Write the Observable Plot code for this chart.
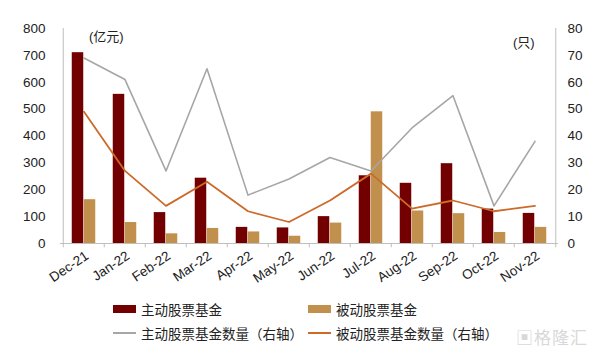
<!DOCTYPE html>
<html><head><meta charset="utf-8">
<script src="https://cdn.jsdelivr.net/npm/d3@7"></script>
<script src="https://cdn.jsdelivr.net/npm/@observablehq/plot@0.6"></script>
<style>
html,body{margin:0;padding:0;background:#fff;}
body{font-family:"Liberation Sans",Arial,"Noto Sans CJK SC",sans-serif;}
#wrap{position:relative;width:600px;height:358px;overflow:hidden;}
#chart{position:absolute;left:0;top:0;}
.unit{position:absolute;font-size:13px;color:#222;font-family:"Liberation Sans","Noto Sans CJK SC",sans-serif;}
.leg{position:absolute;font-size:13.5px;color:#222;font-family:"Noto Sans CJK SC",sans-serif;display:flex;align-items:center;white-space:nowrap;}
.sw{display:inline-block;width:23px;margin-right:5px;}
.wm{position:absolute;font-size:17px;color:#d8d8d8;font-family:"Noto Sans CJK SC",sans-serif;letter-spacing:1px;}
</style></head><body>
<div id="wrap"><div id="chart"></div></div>
<script>
const months = ["Dec-21","Jan-22","Feb-22","Mar-22","Apr-22","May-22","Jun-22","Jul-22","Aug-22","Sep-22","Oct-22","Nov-22"];
const activeAmt = [710,555,115,243,60,58,100,252,224,297,128,112];
const passiveAmt = [163,78,36,56,43,27,76,490,121,111,41,60];
const activeCnt = [69,61,27,65,18,24,32,27,43,55,14,38];
const passiveCnt = [49,27,14,23,12,8,16,26,13,16,12,14];
const leftTicks = [0,100,200,300,400,500,600,700,800];
const rightTicks = [0,10,20,30,40,50,60,70,80];
const seriesNames = ["主动股票基金","被动股票基金","主动股票基金数量（右轴）","被动股票基金数量（右轴）"];
const colors = ["#730000","#C1904C","#A6A6A6","#CC6A2A"];

const ratio = 10; // right axis -> left axis
const data = months.map((m,i)=>({month:m, a:activeAmt[i], p:passiveAmt[i], ac:activeCnt[i]*ratio, pc:passiveCnt[i]*ratio}));

const W=600,H=295,mL=60,mR=42,mT=28,mB=52;
const bw=(W-mL-mR)/months.length, half=bw/2, barW=12;

const plot = Plot.plot({
  width:W,height:H,marginLeft:mL,marginRight:mR,marginTop:mT,marginBottom:mB,
  style:{fontFamily:"'Liberation Sans',Arial,sans-serif",fontSize:"13px",color:"#222",background:"#fff"},
  x:{type:"band",domain:months,padding:0},
  y:{domain:[0,800]},
  marks:[
    Plot.barY(data,{x:"month",y:"a",fill:colors[0],insetLeft:half-barW,insetRight:half}),
    Plot.barY(data,{x:"month",y:"p",fill:colors[1],insetLeft:half,insetRight:half-barW}),
    Plot.line(data,{x:"month",y:"ac",stroke:colors[2],strokeWidth:1.6}),
    Plot.line(data,{x:"month",y:"pc",stroke:colors[3],strokeWidth:1.8}),
    Plot.ruleY([0],{stroke:"#BFBFBF"}),
    Plot.ruleX([months[0]],{dx:-half,stroke:"#BFBFBF"}),
    Plot.ruleX([months[months.length-1]],{dx:half,stroke:"#BFBFBF"}),
    Plot.ruleX(months,{x:d=>d,y1:0,y2:-16,dx:-half,stroke:"#BFBFBF"}),
    Plot.ruleX([months[months.length-1]],{y1:0,y2:-16,dx:half,stroke:"#BFBFBF"}),
    Plot.axisY(leftTicks,{anchor:"left",tickSize:0,tickPadding:15,label:null,fontSize:13.5}),
    Plot.axisY(rightTicks.map(d=>d*ratio),{anchor:"right",tickSize:0,tickPadding:9,tickFormat:d=>d/ratio,label:null,fontSize:13.5}),
    Plot.axisX({tickSize:0,tickRotate:-34,tickPadding:11,dx:3,label:null,fontSize:13.5})
  ]
});
document.getElementById("chart").appendChild(plot);

const wrap=document.getElementById("wrap");
function add(html,cls,left,top){const d=document.createElement("div");d.className=cls;d.style.left=left+"px";d.style.top=top+"px";d.innerHTML=html;wrap.appendChild(d);}
add("(亿元)","unit",89,26);
add("(只)","unit",513,32);
const legPos=[[113,299],[308,299],[113,323],[308,323]];
seriesNames.forEach((n,i)=>{
  const isBar=i<2;
  const sw=`<span class="sw" style="height:${isBar?8:2}px;background:${colors[i]}"></span>`;
  add(sw+n,"leg",legPos[i][0],legPos[i][1]);
});
add("▣格隆汇","wm",516,324);
</script>
</body></html>
